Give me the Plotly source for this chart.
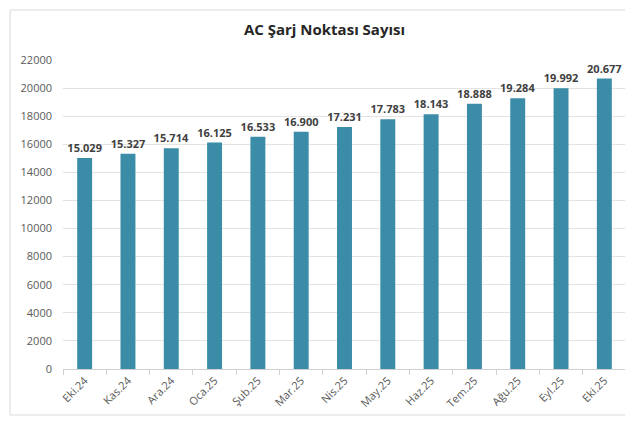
import plotly.graph_objects as go

# Monthly AC charging point counts
months = ['Eki.24', 'Kas.24', 'Ara.24', 'Oca.25', 'Şub.25', 'Mar.25', 'Nis.25',
          'May.25', 'Haz.25', 'Tem.25', 'Ağu.25', 'Eyl.25', 'Eki.25']
ac_points = [15029, 15327, 15714, 16125, 16533, 16900, 17231,
             17783, 18143, 18888, 19284, 19992, 20677]
y_ticks = list(range(0, 22001, 2000))

labels = [f"{v:,}".replace(",", ".") for v in ac_points]

fig = go.Figure()
fig.add_trace(go.Bar(
    x=months,
    y=ac_points,
    text=labels,
    textposition='outside',
    constraintext='none',
    textfont=dict(family='Open Sans', size=11, color='#404040', weight='bold'),
    cliponaxis=False,
    marker_color='#3b8ca6',
    marker_line_width=0,
))

# light frame around the chart
fig.add_shape(type='rect', xref='paper', yref='paper',
              x0=-0.094, x1=1.003, y0=-0.149, y1=1.162,
              line=dict(color='#d9d9d9', width=1), fillcolor='rgba(0,0,0,0)')

fig.update_layout(
    width=633, height=425,
    margin=dict(l=55, r=15, t=52, b=64),
    paper_bgcolor='white', plot_bgcolor='white',
    title=dict(text='<b>AC Şarj Noktası Sayısı</b>', x=0.5, xanchor='center',
               y=0.95, yanchor='middle',
               font=dict(family='Open Sans', size=15, color='#262626')),
    bargap=0.655,
    showlegend=False,
    font=dict(family='Open Sans', color='#595959', size=11),
)
fig.update_yaxes(
    range=[0, 22000], tickvals=y_ticks, ticktext=[str(t) for t in y_ticks],
    showgrid=True, gridcolor='#e3e3e3',
    gridwidth=1, zeroline=False, showline=False, ticks='',
    tickfont=dict(size=11, color='#595959'), ticklabelstandoff=10,
)
fig.update_xaxes(
    showline=True, linecolor='#d0d0d0', ticks='outside', tickson='boundaries',
    ticklen=5, tickcolor='#d0d0d0', tickangle=-45,
    tickfont=dict(size=11, color='#595959'),
)

fig.write_html("out.html")
